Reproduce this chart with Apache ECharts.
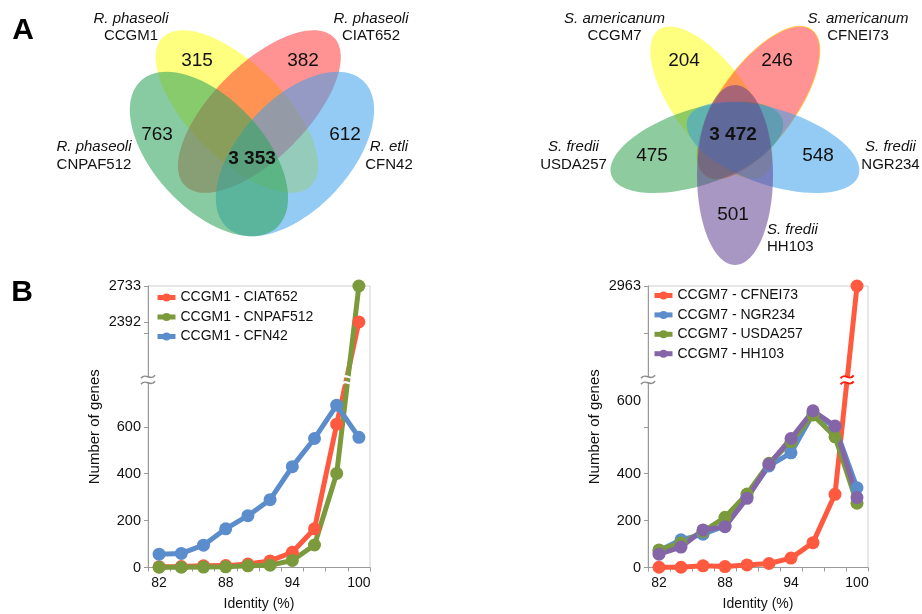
<!DOCTYPE html>
<html><head><meta charset="utf-8">
<script src="https://cdn.jsdelivr.net/npm/echarts@6/dist/echarts.min.js"></script>
<style>html,body{margin:0;padding:0;background:#fff}#c{width:922px;height:614px}</style>
</head><body><div id="c"></div>
<script>
// ================= DATA =================
const identityCats = ['82','84','86','88','90','92','94','96','98','100'];

const leftSeriesNames = ['CCGM1 - CIAT652','CCGM1 - CNPAF512','CCGM1 - CFN42'];
const ciat652  = [3, 4, 7, 8, 15, 28, 65, 165, 611, 2392];
const cnpaf512 = [1, 1, 2, 3, 7, 10, 30, 96, 401, 2733];
const cfn42    = [57, 60, 95, 165, 221, 289, 430, 550, 692, 555];

const rightSeriesNames = ['CCGM7 - CFNEI73','CCGM7 - NGR234','CCGM7 - USDA257','CCGM7 - HH103'];
const cfnei73 = [1, 1, 7, 4, 11, 17, 40, 106, 312, 2963];
const ngr234  = [71, 118, 142, 177, 302, 433, 489, 654, 600, 340];
const usda257 = [75, 104, 153, 214, 313, 444, 536, 650, 557, 274];
const hh103   = [57, 87, 160, 174, 295, 440, 550, 668, 603, 298];

const leftYTickLabels  = ['0','200','400','600','2392','2733'];
const rightYTickLabels = ['0','200','400','600','2963'];

const vennLeftSpecies  = ['R. phaseoli','R. phaseoli','R. phaseoli','R. etli'];
const vennLeftStrains  = ['CCGM1','CIAT652','CNPAF512','CFN42'];
const vennLeftCounts   = [315, 382, 763, 612, 3353];

const vennRightSpecies = ['S. americanum','S. americanum','S. fredii','S. fredii','S. fredii'];
const vennRightStrains = ['CCGM7','CFNEI73','USDA257','NGR234','HH103'];
const vennRightCounts  = [204, 246, 475, 548, 501, 3472];

const panelLetters = ['A','B'];
const xAxisName = 'Identity (%)';
const yAxisName = 'Number of genes';

// ================= LAYOUT / STYLE =================
const FONT = "'Liberation Sans', Arial, Helvetica, sans-serif";
const BREAK_AT = 800, AXIS_TOP = 1200, UPPER_SCALE = 153/341;
const LTOP = 2733, RTOP = 2963;
const toPlot = (v, topVal) => v <= BREAK_AT ? v : AXIS_TOP - (topVal - v) * UPPER_SCALE;

const leftLabelPos  = leftYTickLabels.map(s => toPlot(+s, LTOP));
const rightLabelPos = [0, 200, 400, 710, 1200];
const leftTickPos   = [0, 200, 400, 600, 800, 1000, toPlot(2392, LTOP), 1200];
const rightTickPos  = [0, 200, 400, 600, 800, 1000, 1200];

const C_RED = '#ff5a40', C_GREEN = '#7a9a3c', C_BLUE = '#5b8dcc', C_PURPLE = '#8466a8';
const AXIS_GRAY = '#9a9a9a';

function labelFmt(pos, labels) {
  return v => { const i = pos.findIndex(p => Math.abs(p - v) < 0.01); return i >= 0 ? labels[i] : ''; };
}
function fmtCount(n) { return String(n).replace(/\B(?=(\d{3})+(?!\d))/g, ' '); }

function xAxisCfg(gi) {
  return {
    type: 'category', gridIndex: gi, data: identityCats, boundaryGap: true,
    axisLine: { lineStyle: { color: AXIS_GRAY, width: 1 } },
    axisTick: { show: true, interval: 0, length: 4, lineStyle: { color: AXIS_GRAY } },
    axisLabel: { interval: 2, fontSize: 14, fontFamily: FONT, color: '#111', margin: 9 },
    splitLine: { show: false },
    name: xAxisName, nameLocation: 'middle', nameGap: 30,
    nameTextStyle: { fontSize: 14, fontFamily: FONT, color: '#111' }
  };
}
function yAxisCfg(gi, tickPos, labelPos, labels) {
  return {
    type: 'value', gridIndex: gi, min: 0, max: AXIS_TOP, interval: 200,
    axisLine: { show: true, lineStyle: { color: AXIS_GRAY, width: 1 } },
    axisTick: { show: true, length: 4, customValues: tickPos, lineStyle: { color: AXIS_GRAY } },
    axisLabel: { customValues: labelPos, formatter: labelFmt(labelPos, labels), fontSize: 14.5, fontFamily: FONT, color: '#111', margin: 7 },
    splitLine: { show: false },
    name: yAxisName, nameLocation: 'middle', nameGap: 46, nameRotate: 90,
    nameTextStyle: { fontSize: 15, fontFamily: FONT, color: '#111' }
  };
}
function lineSeries(name, data, color, gi, topVal) {
  return {
    type: 'line', name, xAxisIndex: gi, yAxisIndex: gi,
    data: data.map(v => toPlot(v, topVal)),
    symbol: 'circle', symbolSize: 13, showSymbol: true, showAllSymbol: true,
    lineStyle: { width: 5, color }, itemStyle: { color },
    emphasis: { disabled: true }, animation: false
  };
}
const legendText = { fontSize: 14, fontFamily: FONT, color: '#111', lineHeight: 14 };
const legendBase = { orient: 'vertical', itemWidth: 18, itemHeight: 10, padding: 0, textStyle: legendText,
                     selectedMode: false, lineStyle: { width: 5 }, itemGap: 5.5 };

const option = {
  backgroundColor: '#fff',
  animation: false,
  grid: [
    { left: 148, top: 286, width: 222, height: 281.5, show: true, borderColor: '#cfcfcf', borderWidth: 1 },
    { left: 648, top: 286, width: 220, height: 281.5, show: true, borderColor: '#cfcfcf', borderWidth: 1 }
  ],
  xAxis: [xAxisCfg(0), xAxisCfg(1)],
  yAxis: [yAxisCfg(0, leftTickPos, leftLabelPos, leftYTickLabels),
          yAxisCfg(1, rightTickPos, rightLabelPos, rightYTickLabels)],
  legend: [
    Object.assign({}, legendBase, { data: leftSeriesNames, left: 155, top: 290.5 }),
    Object.assign({}, legendBase, { data: rightSeriesNames, left: 652, top: 288.5, itemGap: 5.4 })
  ],
  series: [
    lineSeries(leftSeriesNames[0], ciat652, C_RED, 0, LTOP),
    lineSeries(leftSeriesNames[1], cnpaf512, C_GREEN, 0, LTOP),
    lineSeries(leftSeriesNames[2], cfn42, C_BLUE, 0, LTOP),
    lineSeries(rightSeriesNames[0], cfnei73, C_RED, 1, RTOP),
    lineSeries(rightSeriesNames[1], ngr234, C_BLUE, 1, RTOP),
    lineSeries(rightSeriesNames[2], usda257, C_GREEN, 1, RTOP),
    lineSeries(rightSeriesNames[3], hh103, C_PURPLE, 1, RTOP)
  ]
};

const chart = echarts.init(document.getElementById('c'), null, { renderer: 'canvas' });
chart.setOption(option);

// ================= GRAPHICS (Venn + decorations) =================
const g = [];
function ell(cx, cy, rx, ry, deg, fill, stroke) {
  return { type: 'ellipse', x: cx, y: cy, rotation: -deg * Math.PI / 180, silent: true, z: 1,
           shape: { cx: 0, cy: 0, rx, ry }, style: { fill, stroke: stroke || null, lineWidth: stroke ? 1 : 0 } };
}
function txt(x, y, text, extra) {
  return { type: 'text', x, y, silent: true, z: 60,
           style: Object.assign({ text, fill: '#111', fontFamily: FONT, fontSize: 15, align: 'center', verticalAlign: 'middle' }, extra || {}) };
}

// --- Left Venn (4 sets) ---
g.push(ell(237, 111.5, 105, 47, 45, 'rgba(255,255,0,0.5)'));
g.push(ell(259.5, 111.5, 105, 47, -45, 'rgba(255,40,40,0.5)'));
g.push(ell(295, 154, 100, 55, -47, 'rgba(60,160,235,0.55)'));
g.push(ell(209, 154, 100, 55, 47, 'rgba(50,165,95,0.58)'));
const vlNamePos = [[131, 19, 36], [371, 19, 36], [94, 147, 165], [389, 147, 165]];
vennLeftSpecies.forEach((s, i) => {
  const p = vlNamePos[i];
  g.push(txt(p[0], p[1], s, { fontStyle: 'italic' }));
  g.push(txt(p[0], p[2], vennLeftStrains[i]));
});
const vlCountPos = [[197, 60.5], [303, 60.5], [157, 135], [345, 135], [252, 159]];
vennLeftCounts.forEach((n, i) => {
  const last = i === vennLeftCounts.length - 1;
  g.push(txt(vlCountPos[i][0], vlCountPos[i][1], fmtCount(n), { fontSize: 19, fontWeight: last ? 'bold' : 'normal' }));
});

// --- Right Venn (5 sets) ---
const VC = [735, 135], VD = 40, VA = 90, VB = 38;
const vrAngles = [234, 306, 162, 18, 90]; // CCGM7, CFNEI73, USDA257, NGR234, HH103
const vrFills = ['rgba(255,255,0,0.5)', 'rgba(255,40,40,0.5)', 'rgba(50,160,80,0.55)', 'rgba(60,160,235,0.55)', 'rgba(97,64,146,0.55)'];
vrAngles.forEach((a, i) => {
  const r = a * Math.PI / 180;
  g.push(ell(VC[0] + VD * Math.cos(r), VC[1] + VD * Math.sin(r), VA, VB, a, vrFills[i], i === 1 ? 'rgba(255,190,0,0.7)' : null));
});
const vrNamePos = [[614.5, 19, 36, 'center'], [858, 19, 36, 'center'], [573.5, 147, 165, 'center'], [890.5, 147, 165, 'center'], [767, 230, 247, 'left']];
vennRightSpecies.forEach((s, i) => {
  const p = vrNamePos[i];
  g.push(txt(p[0], p[1], s, { fontStyle: 'italic', align: p[3] }));
  g.push(txt(p[0], p[2], vennRightStrains[i], { align: p[3] }));
});
const vrCountPos = [[684, 61], [777, 61], [652, 156], [818, 156], [733, 215], [733, 135]];
vennRightCounts.forEach((n, i) => {
  const last = i === vennRightCounts.length - 1;
  g.push(txt(vrCountPos[i][0], vrCountPos[i][1], fmtCount(n), { fontSize: 19, fontWeight: last ? 'bold' : 'normal' }));
});

// --- Panel letters ---
g.push(txt(23, 31, panelLetters[0], { fontSize: 30, fontWeight: 'bold', fill: '#000' }));
g.push(txt(22, 293, panelLetters[1], { fontSize: 30, fontWeight: 'bold', fill: '#000' }));

// --- Break marks (two tildes) ---
function tilde(x, y, w, color, lw) {
  const h = w / 2;
  return { type: 'bezierCurve', x, y, z: 95, silent: true,
           shape: { x1: -h, y1: 1.5, cpx1: -h / 3, cpy1: -5, cpx2: h / 3, cpy2: 5, x2: h, y2: -1.5 },
           style: { fill: null, stroke: color, lineWidth: lw } };
}
function breakMark(x, y, w, color, lw, gapFill) {
  if (gapFill) g.push({ type: 'rect', x: x - w / 2 - 1, y: y - 3, shape: { width: w + 2, height: 6 }, style: { fill: gapFill }, z: 90, silent: true });
  g.push(tilde(x, y - 3, w, color, lw));
  g.push(tilde(x, y + 3, w, color, lw));
}
[0, 1].forEach(gi => {
  const yb = chart.convertToPixel({ yAxisIndex: gi }, BREAK_AT);
  const axisX = gi === 0 ? 148 : 648;
  breakMark(axisX, yb, 14, '#8a8a8a', 1.6, '#fff');
});
function crossPoint(seriesIdx, data, topVal) {
  const p1 = chart.convertToPixel({ seriesIndex: seriesIdx }, [8, toPlot(data[8], topVal)]);
  const p2 = chart.convertToPixel({ seriesIndex: seriesIdx }, [9, toPlot(data[9], topVal)]);
  const yb = chart.convertToPixel({ seriesIndex: seriesIdx }, [8, BREAK_AT])[1];
  const t = (yb - p1[1]) / (p2[1] - p1[1]);
  return [p1[0] + t * (p2[0] - p1[0]), yb];
}
const cl = crossPoint(1, cnpaf512, LTOP);
breakMark(cl[0], cl[1], 12, '#fff', 2.2, null);
const cr = crossPoint(3, cfnei73, RTOP);
breakMark(cr[0], cr[1], 13, '#ff1a0a', 2, '#fff');

chart.setOption({ graphic: g });
</script></body></html>
